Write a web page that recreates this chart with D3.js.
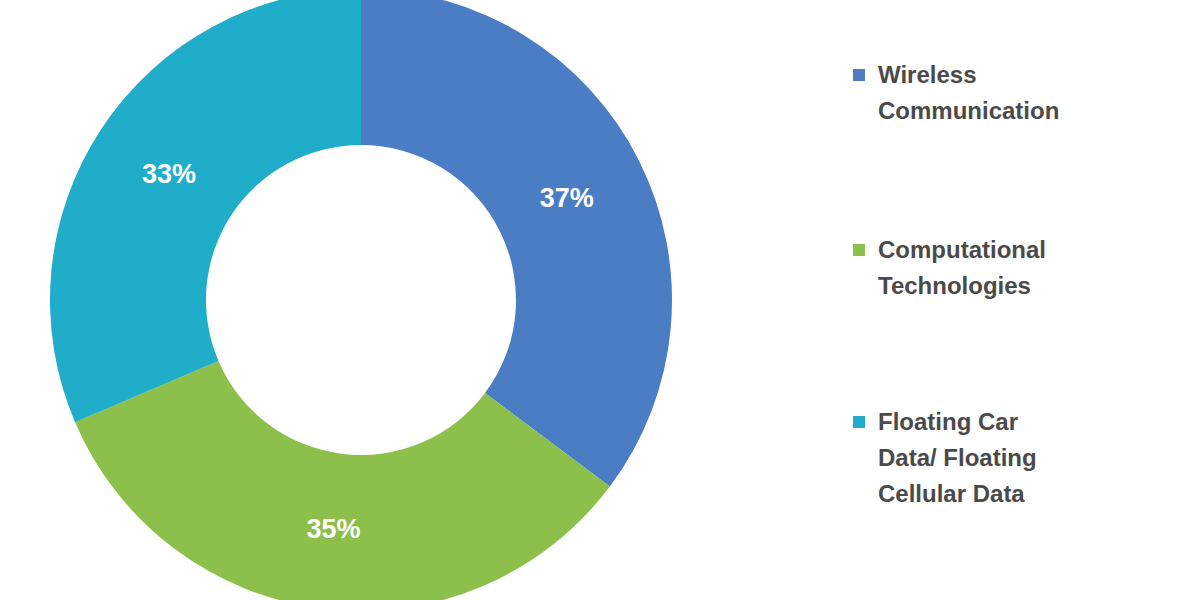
<!DOCTYPE html>
<html><head><meta charset="utf-8">
<script src="https://cdn.jsdelivr.net/npm/d3@7"></script>
<style>body{margin:0;background:#fff}</style>
</head><body>
<svg id="c" width="1200" height="600"></svg>
<script>
const categories = ["Wireless Communication","Computational Technologies","Floating Car Data/ Floating Cellular Data"];
const values = [37, 35, 33];
const labels = ["37%","35%","33%"];
const legendLines = [["Wireless","Communication"],["Computational","Technologies"],["Floating Car","Data/ Floating","Cellular Data"]];
const colors = ["#4a7dc3","#8cc04b","#1fadc9"];

const svg = d3.select("#c");
const cx = 361, cy = 300, R = 311, r = 155;
const pie = d3.pie().sort(null).value(d=>d);
const arcs = pie(values);
const arc = d3.arc().innerRadius(r).outerRadius(R);
const g = svg.append("g").attr("transform",`translate(${cx},${cy})`);
g.selectAll("path").data(arcs).join("path").attr("d",arc).attr("fill",(d,i)=>colors[i]);
const lab = d3.arc().innerRadius(230).outerRadius(230);
g.selectAll("text").data(arcs).join("text")
  .attr("transform",d=>`translate(${lab.centroid(d)})`)
  .attr("text-anchor","middle").attr("dy","0.35em")
  .attr("font-family","Liberation Sans, Arial, sans-serif").attr("font-weight","bold")
  .attr("font-size",27).attr("fill","#fff").text((d,i)=>labels[i]);

const legendY = [75, 250, 422];
const lg = svg.append("g");
legendLines.forEach((lines,i)=>{
  lg.append("rect").attr("x",853).attr("y",legendY[i]-6).attr("width",12).attr("height",12).attr("fill",colors[i]);
  const t = lg.append("text").attr("x",878).attr("y",legendY[i]).attr("dy","0.35em")
    .attr("font-family","Liberation Sans, Arial, sans-serif").attr("font-weight","bold")
    .attr("font-size",24).attr("fill","#4a4a4a");
  lines.forEach((l,j)=>t.append("tspan").attr("x",878).attr("dy",j===0?"0.35em":"1.5em").text(l));
});
</script>
</body></html>
